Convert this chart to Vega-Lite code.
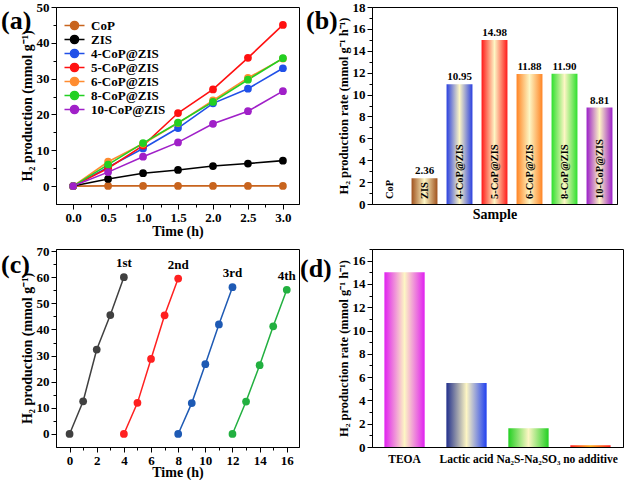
{
  "$schema": "https://vega.github.io/schema/vega-lite/v6.json",
  "padding": {"left": 0, "top": 0, "right": 0, "bottom": 0},
  "background": "white",
  "config": {
    "font": "Liberation Serif",
    "view": {"stroke": "#000", "strokeWidth": 1},
    "axis": {"domainColor": "#000", "tickColor": "#000", "labelColor": "#000", "titleColor": "#000", "labelFont": "Liberation Serif", "titleFont": "Liberation Serif", "labelFontWeight": "bold", "titleFontWeight": "bold", "labelFontSize": 13, "titleFontSize": 14, "grid": false, "tickSize": 5, "domainWidth": 1, "labelPadding": 2, "titlePadding": 2},
    "legend": {"labelFont": "Liberation Serif", "labelFontWeight": "bold", "labelFontSize": 13, "labelColor": "#000"},
    "title": {"font": "Liberation Serif", "fontSize": 26, "fontWeight": "bold", "anchor": "start", "frame": "group", "color": "#000", "offset": 0, "baseline": "top"}
  },
  "columns": 2,
  "spacing": {"row": 45, "column": 73},
  "bounds": "flush",
  "resolve": {"scale": {"color": "independent"}, "legend": {"color": "independent"}},
  "concat": [
        {
          "width": 243, "height": 197,
          "title": {"text": "(a)", "dx": -55, "dy": 37},
          "data": {"values": [
            {"sample": "CoP", "time": 0, "h2": 0}, {"sample": "CoP", "time": 0.5, "h2": 0.05}, {"sample": "CoP", "time": 1, "h2": 0.05}, {"sample": "CoP", "time": 1.5, "h2": 0.05}, {"sample": "CoP", "time": 2, "h2": 0.05}, {"sample": "CoP", "time": 2.5, "h2": 0.05}, {"sample": "CoP", "time": 3, "h2": 0.05},
            {"sample": "ZIS", "time": 0, "h2": 0}, {"sample": "ZIS", "time": 0.5, "h2": 2.0}, {"sample": "ZIS", "time": 1, "h2": 3.6}, {"sample": "ZIS", "time": 1.5, "h2": 4.5}, {"sample": "ZIS", "time": 2, "h2": 5.6}, {"sample": "ZIS", "time": 2.5, "h2": 6.3}, {"sample": "ZIS", "time": 3, "h2": 7.1},
            {"sample": "4-CoP@ZIS", "time": 0, "h2": 0}, {"sample": "4-CoP@ZIS", "time": 0.5, "h2": 5.3}, {"sample": "4-CoP@ZIS", "time": 1, "h2": 10.5}, {"sample": "4-CoP@ZIS", "time": 1.5, "h2": 16.2}, {"sample": "4-CoP@ZIS", "time": 2, "h2": 23.1}, {"sample": "4-CoP@ZIS", "time": 2.5, "h2": 27.2}, {"sample": "4-CoP@ZIS", "time": 3, "h2": 32.9},
            {"sample": "5-CoP@ZIS", "time": 0, "h2": 0}, {"sample": "5-CoP@ZIS", "time": 0.5, "h2": 5.0}, {"sample": "5-CoP@ZIS", "time": 1, "h2": 11.3}, {"sample": "5-CoP@ZIS", "time": 1.5, "h2": 20.4}, {"sample": "5-CoP@ZIS", "time": 2, "h2": 27.0}, {"sample": "5-CoP@ZIS", "time": 2.5, "h2": 35.8}, {"sample": "5-CoP@ZIS", "time": 3, "h2": 45.0},
            {"sample": "6-CoP@ZIS", "time": 0, "h2": 0}, {"sample": "6-CoP@ZIS", "time": 0.5, "h2": 6.8}, {"sample": "6-CoP@ZIS", "time": 1, "h2": 11.8}, {"sample": "6-CoP@ZIS", "time": 1.5, "h2": 17.6}, {"sample": "6-CoP@ZIS", "time": 2, "h2": 23.9}, {"sample": "6-CoP@ZIS", "time": 2.5, "h2": 30.2}, {"sample": "6-CoP@ZIS", "time": 3, "h2": 35.6},
            {"sample": "8-CoP@ZIS", "time": 0, "h2": 0}, {"sample": "8-CoP@ZIS", "time": 0.5, "h2": 6.0}, {"sample": "8-CoP@ZIS", "time": 1, "h2": 12.0}, {"sample": "8-CoP@ZIS", "time": 1.5, "h2": 17.7}, {"sample": "8-CoP@ZIS", "time": 2, "h2": 23.5}, {"sample": "8-CoP@ZIS", "time": 2.5, "h2": 29.7}, {"sample": "8-CoP@ZIS", "time": 3, "h2": 35.7},
            {"sample": "10-CoP@ZIS", "time": 0, "h2": 0}, {"sample": "10-CoP@ZIS", "time": 0.5, "h2": 3.9}, {"sample": "10-CoP@ZIS", "time": 1, "h2": 8.2}, {"sample": "10-CoP@ZIS", "time": 1.5, "h2": 12.2}, {"sample": "10-CoP@ZIS", "time": 2, "h2": 17.4}, {"sample": "10-CoP@ZIS", "time": 2.5, "h2": 20.9}, {"sample": "10-CoP@ZIS", "time": 3, "h2": 26.5}
          ]},
          "encoding": {
            "x": {"field": "time", "type": "quantitative", "scale": {"domain": [-0.245, 3.23], "nice": false, "zero": false},
                  "axis": {"title": "Time (h)", "titlePadding": 0, "labelPadding": 2, "values": [0, 0.25, 0.5, 0.75, 1, 1.25, 1.5, 1.75, 2, 2.25, 2.5, 2.75, 3], "format": ".1f",
                           "labelExpr": "(datum.value * 2) % 1 === 0 ? datum.label : ''",
                           "tickSize": {"condition": {"test": "(datum.value * 2) % 1 === 0", "value": 5}, "value": 3}}},
            "y": {"field": "h2", "type": "quantitative", "scale": {"domain": [-5, 50], "nice": false},
                  "axis": {"title": "H₂ production (mmol g⁻¹)", "values": [0, 5, 10, 15, 20, 25, 30, 35, 40, 45, 50],
                           "labelExpr": "datum.value % 10 === 0 ? datum.label : ''",
                           "tickSize": {"condition": {"test": "datum.value % 10 === 0", "value": 5}, "value": 3}}},
            "color": {"field": "sample", "type": "nominal",
                      "scale": {"domain": ["CoP", "ZIS", "4-CoP@ZIS", "5-CoP@ZIS", "6-CoP@ZIS", "8-CoP@ZIS", "10-CoP@ZIS"],
                                "range": ["#c8641e", "#000000", "#2050e8", "#ff1010", "#ff8c30", "#22d022", "#a020c8"]},
                      "legend": {"title": null, "orient": "top-left", "offset": 12, "padding": 0,
                                 "symbolType": "M-2,0L2,0M-0.8,0A0.8,0.8,0,1,0,0.8,0A0.8,0.8,0,1,0,-0.8,0",
                                 "symbolSize": 100, "symbolStrokeWidth": 1.6, "rowPadding": -1.5, "labelOffset": 10}}
          },
          "layer": [
            {"mark": {"type": "line", "strokeWidth": 1.6}},
            {"mark": {"type": "point", "filled": true, "size": 60, "opacity": 1}}
          ]
        },
        {
          "width": 245, "height": 197,
          "title": {"text": "(b)", "dx": -66, "dy": 37},
          "data": {"values": [
            {"sample": "CoP", "rate": 0}, {"sample": "ZIS", "rate": 2.36}, {"sample": "4-CoP@ZIS", "rate": 10.95}, {"sample": "5-CoP@ZIS", "rate": 14.98}, {"sample": "6-CoP@ZIS", "rate": 11.88}, {"sample": "8-CoP@ZIS", "rate": 11.90}, {"sample": "10-CoP@ZIS", "rate": 8.81}
          ]},
          "encoding": {
            "x": {"field": "sample", "type": "nominal", "sort": null, "scale": {"paddingInner": 0.26, "paddingOuter": 0.13},
                  "axis": {"title": "Sample", "labels": false, "ticks": false, "titlePadding": 3}},
            "y": {"field": "rate", "type": "quantitative", "scale": {"domain": [0, 18], "nice": false},
                  "axis": {"title": "H₂ production rate (mmol g⁻¹ h⁻¹)", "titleFontSize": 12.5, "values": [0, 1, 2, 3, 4, 5, 6, 7, 8, 9, 10, 11, 12, 13, 14, 15, 16, 17, 18],
                           "labelExpr": "datum.value % 2 === 0 ? datum.label : ''",
                           "tickSize": {"condition": {"test": "datum.value % 2 === 0", "value": 5}, "value": 3}}}
          },
          "layer": [
            {"mark": {"type": "bar"},
             "encoding": {"color": {"condition": [
               {"test": "datum.sample === 'ZIS'", "value": {"gradient": "linear", "x1": 0, "y1": 0, "x2": 1, "y2": 0, "stops": [{"offset": 0, "color": "#a0521e"}, {"offset": 0.5, "color": "#fdf6c4"}, {"offset": 1, "color": "#a0521e"}]}},
               {"test": "datum.sample === '4-CoP@ZIS'", "value": {"gradient": "linear", "x1": 0, "y1": 0, "x2": 1, "y2": 0, "stops": [{"offset": 0, "color": "#2a40e0"}, {"offset": 0.5, "color": "#fdf6c4"}, {"offset": 1, "color": "#2a40e0"}]}},
               {"test": "datum.sample === '5-CoP@ZIS'", "value": {"gradient": "linear", "x1": 0, "y1": 0, "x2": 1, "y2": 0, "stops": [{"offset": 0, "color": "#ff1a1a"}, {"offset": 0.5, "color": "#fdf6c4"}, {"offset": 1, "color": "#ff1a1a"}]}},
               {"test": "datum.sample === '6-CoP@ZIS'", "value": {"gradient": "linear", "x1": 0, "y1": 0, "x2": 1, "y2": 0, "stops": [{"offset": 0, "color": "#ff8424"}, {"offset": 0.5, "color": "#fdf6c4"}, {"offset": 1, "color": "#ff8424"}]}},
               {"test": "datum.sample === '8-CoP@ZIS'", "value": {"gradient": "linear", "x1": 0, "y1": 0, "x2": 1, "y2": 0, "stops": [{"offset": 0, "color": "#2ee02e"}, {"offset": 0.5, "color": "#fdf6c4"}, {"offset": 1, "color": "#2ee02e"}]}},
               {"test": "datum.sample === '10-CoP@ZIS'", "value": {"gradient": "linear", "x1": 0, "y1": 0, "x2": 1, "y2": 0, "stops": [{"offset": 0, "color": "#9a1ec8"}, {"offset": 0.5, "color": "#fdf6c4"}, {"offset": 1, "color": "#9a1ec8"}]}}
             ], "value": "#cccccc"}}},
            {"transform": [{"filter": "datum.rate > 0"}],
             "mark": {"type": "text", "dy": -7, "fontWeight": "bold", "fontSize": 11, "font": "Liberation Serif", "color": "#000"},
             "encoding": {"text": {"field": "rate", "type": "quantitative", "format": ".2f"}}},
            {"mark": {"type": "text", "angle": 270, "align": "left", "baseline": "middle", "dx": 5, "fontWeight": "bold", "fontSize": 10.5, "font": "Liberation Serif", "color": "#000"},
             "encoding": {"y": {"datum": 0}, "text": {"field": "sample", "type": "nominal"}}}
          ]
        },
        {
          "width": 243, "height": 198,
          "title": {"text": "(c)", "dx": -55, "dy": 37},
          "data": {"values": [
            {"run": "1st", "time": 0, "h2": 0}, {"run": "1st", "time": 1, "h2": 12.5}, {"run": "1st", "time": 2, "h2": 32.3}, {"run": "1st", "time": 3, "h2": 45.5}, {"run": "1st", "time": 4, "h2": 60.0},
            {"run": "2nd", "time": 4, "h2": 0}, {"run": "2nd", "time": 5, "h2": 11.9}, {"run": "2nd", "time": 6, "h2": 28.7}, {"run": "2nd", "time": 7, "h2": 45.4}, {"run": "2nd", "time": 8, "h2": 59.5},
            {"run": "3rd", "time": 8, "h2": 0}, {"run": "3rd", "time": 9, "h2": 11.8}, {"run": "3rd", "time": 10, "h2": 26.7}, {"run": "3rd", "time": 11, "h2": 41.9}, {"run": "3rd", "time": 12, "h2": 56.2},
            {"run": "4th", "time": 12, "h2": 0}, {"run": "4th", "time": 13, "h2": 12.4}, {"run": "4th", "time": 14, "h2": 26.3}, {"run": "4th", "time": 15, "h2": 41.2}, {"run": "4th", "time": 16, "h2": 55.2}
          ]},
          "encoding": {
            "x": {"field": "time", "type": "quantitative", "scale": {"domain": [-1, 16.9], "nice": false, "zero": false},
                  "axis": {"title": "Time (h)", "titlePadding": -2, "labelPadding": 2, "values": [0, 1, 2, 3, 4, 5, 6, 7, 8, 9, 10, 11, 12, 13, 14, 15, 16],
                           "labelExpr": "datum.value % 2 === 0 ? datum.label : ''",
                           "tickSize": {"condition": {"test": "datum.value % 2 === 0", "value": 5}, "value": 3}}},
            "y": {"field": "h2", "type": "quantitative", "scale": {"domain": [-5, 70.8], "nice": false},
                  "axis": {"title": "H₂ production (mmol g⁻¹)", "values": [0, 5, 10, 15, 20, 25, 30, 35, 40, 45, 50, 55, 60, 65, 70],
                           "labelExpr": "datum.value % 10 === 0 ? datum.label : ''",
                           "tickSize": {"condition": {"test": "datum.value % 10 === 0", "value": 5}, "value": 3}}},
            "color": {"field": "run", "type": "nominal", "scale": {"domain": ["1st", "2nd", "3rd", "4th"], "range": ["#404040", "#ff2020", "#1e5ab4", "#22b040"]}, "legend": null}
          },
          "layer": [
            {"mark": {"type": "line", "strokeWidth": 1.5}},
            {"mark": {"type": "point", "filled": true, "size": 60, "opacity": 1}},
            {"transform": [{"joinaggregate": [{"op": "max", "field": "time", "as": "tmax"}], "groupby": ["run"]}, {"filter": "datum.time === datum.tmax"}],
             "mark": {"type": "text", "dy": -14, "fontWeight": "bold", "fontSize": 13, "font": "Liberation Serif", "color": "#000"},
             "encoding": {"text": {"field": "run", "type": "nominal"}, "color": {"value": "#000"}}}
          ]
        },
        {
          "width": 251, "height": 198,
          "title": {"text": "(d)", "dx": -72, "dy": 37},
          "data": {"values": [
            {"additive": "TEOA", "rate": 15.0}, {"additive": "Lactic acid", "rate": 5.5}, {"additive": "Na₂S-Na₂SO₃", "rate": 1.6}, {"additive": "no additive", "rate": 0.15}
          ]},
          "mark": {"type": "bar"},
          "encoding": {
            "x": {"field": "additive", "type": "nominal", "sort": null, "scale": {"paddingInner": 0.35, "paddingOuter": 0.2},
                  "axis": {"title": null, "ticks": false, "labelAngle": 0, "labelPadding": 6, "labelFontSize": 11.5}},
            "y": {"field": "rate", "type": "quantitative", "scale": {"domain": [0, 17], "nice": false},
                  "axis": {"title": "H₂ production rate (mmol g⁻¹ h⁻¹)", "titleFontSize": 12.5, "values": [0, 1, 2, 3, 4, 5, 6, 7, 8, 9, 10, 11, 12, 13, 14, 15, 16, 17],
                           "labelExpr": "datum.value % 2 === 0 ? datum.label : ''",
                           "tickSize": {"condition": {"test": "datum.value % 2 === 0", "value": 5}, "value": 3}}},
            "color": {"condition": [
               {"test": "datum.additive === 'TEOA'", "value": {"gradient": "linear", "x1": 0, "y1": 0, "x2": 1, "y2": 0, "stops": [{"offset": 0, "color": "#e020f0"}, {"offset": 0.5, "color": "#fdf6c4"}, {"offset": 1, "color": "#e020f0"}]}},
               {"test": "datum.additive === 'Lactic acid'", "value": {"gradient": "linear", "x1": 0, "y1": 0, "x2": 1, "y2": 0, "stops": [{"offset": 0, "color": "#22308c"}, {"offset": 0.5, "color": "#fdf6c4"}, {"offset": 1, "color": "#2040f0"}]}},
               {"test": "datum.additive === 'Na₂S-Na₂SO₃'", "value": {"gradient": "linear", "x1": 0, "y1": 0, "x2": 1, "y2": 0, "stops": [{"offset": 0, "color": "#22d022"}, {"offset": 0.5, "color": "#fdf6c4"}, {"offset": 1, "color": "#22d022"}]}},
               {"test": "datum.additive === 'no additive'", "value": {"gradient": "linear", "x1": 0, "y1": 0, "x2": 1, "y2": 0, "stops": [{"offset": 0, "color": "#ff2020"}, {"offset": 0.5, "color": "#ffb020"}, {"offset": 1, "color": "#ff2020"}]}}
             ], "value": "#cccccc"}
          }
        }
  ]
}
